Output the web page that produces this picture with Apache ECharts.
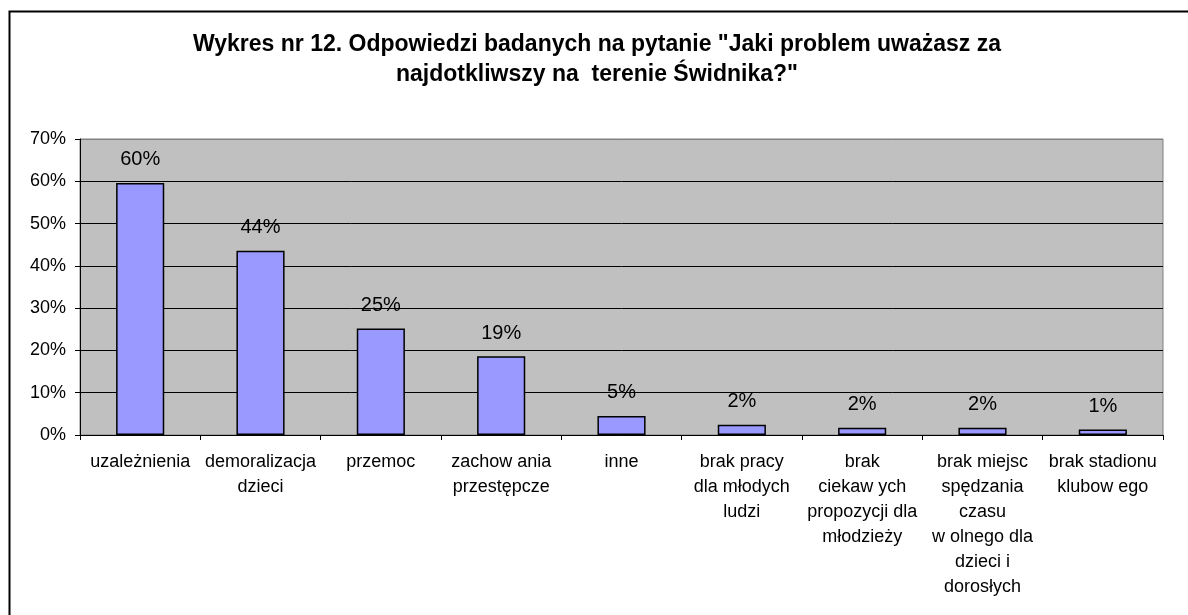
<!DOCTYPE html>
<html>
<head>
<meta charset="utf-8">
<script src="https://cdn.jsdelivr.net/npm/echarts@6/dist/echarts.min.js"></script>
<style>
html,body{margin:0;padding:0;background:#fff;}
#chart{width:1188px;height:615px;}
</style>
</head>
<body>
<div id="chart"></div>
<script>
const titleText = 'Wykres nr 12. Odpowiedzi badanych na pytanie "Jaki problem uważasz za\nnajdotkliwszy na  terenie Świdnika?"';
const categories = [
  'uzależnienia',
  'demoralizacja\ndzieci',
  'przemoc',
  'zachow ania\nprzestępcze',
  'inne',
  'brak pracy\ndla młodych\nludzi',
  'brak\nciekaw ych\npropozycji dla\nmłodzieży',
  'brak miejsc\nspędzania\nczasu\nw olnego dla\ndzieci i\ndorosłych',
  'brak stadionu\nklubow ego'
];
const values = [59.6, 43.6, 25.2, 18.6, 4.5, 2.4, 1.7, 1.7, 1.3];
const yTicks = [0, 10, 20, 30, 40, 50, 60, 70];

const chart = echarts.init(document.getElementById('chart'));
const font = 'Arial, "Liberation Sans", sans-serif';
chart.setOption({
  animation: false,
  backgroundColor: '#fff',
  graphic: [{
    type: 'rect',
    shape: {x: 9.5, y: 11.5, width: 1300, height: 700},
    style: {fill: 'none', stroke: '#000', lineWidth: 2},
    z: 100
  }],
  title: {
    text: titleText,
    left: 597,
    textAlign: 'center',
    top: 30,
    padding: 0,
    textStyle: {fontFamily: font, fontSize: 23, fontWeight: 'bold', color: '#000', lineHeight: 30}
  },
  grid: {
    left: 80, right: 25, top: 139, bottom: 180,
    show: true, backgroundColor: '#C0C0C0', borderColor: '#808080', borderWidth: 1
  },
  xAxis: {
    type: 'category',
    data: categories,
    axisLine: {show: true, lineStyle: {color: '#000', width: 1}},
    axisTick: {show: true, alignWithLabel: false, length: 5, lineStyle: {color: '#000'}},
    axisLabel: {interval: 0, fontFamily: font, fontSize: 18, color: '#000', lineHeight: 25, margin: 15, align: 'center'}
  },
  yAxis: {
    type: 'value',
    min: 0, max: 70, interval: 10,
    axisLine: {show: true, lineStyle: {color: '#000', width: 1}},
    axisTick: {show: true, length: 5, lineStyle: {color: '#000'}},
    axisLabel: {fontFamily: font, fontSize: 18, color: '#000', margin: 14,
      formatter: v => (yTicks.includes(v) ? v + '%' : '')},
    splitLine: {show: true, lineStyle: {color: ['#000','#000','#000','#000','#000','#000','#000','#808080'], width: 1}}
  },
  series: [{
    type: 'bar',
    data: values,
    barWidth: '40%',
    itemStyle: {color: '#9999FF', borderColor: '#000', borderWidth: 1.5},
    label: {
      show: true, position: 'top', distance: 13,
      fontFamily: font, fontSize: 20, color: '#000',
      formatter: p => Math.round(p.value) + '%'
    }
  }]
});
</script>
</body>
</html>
